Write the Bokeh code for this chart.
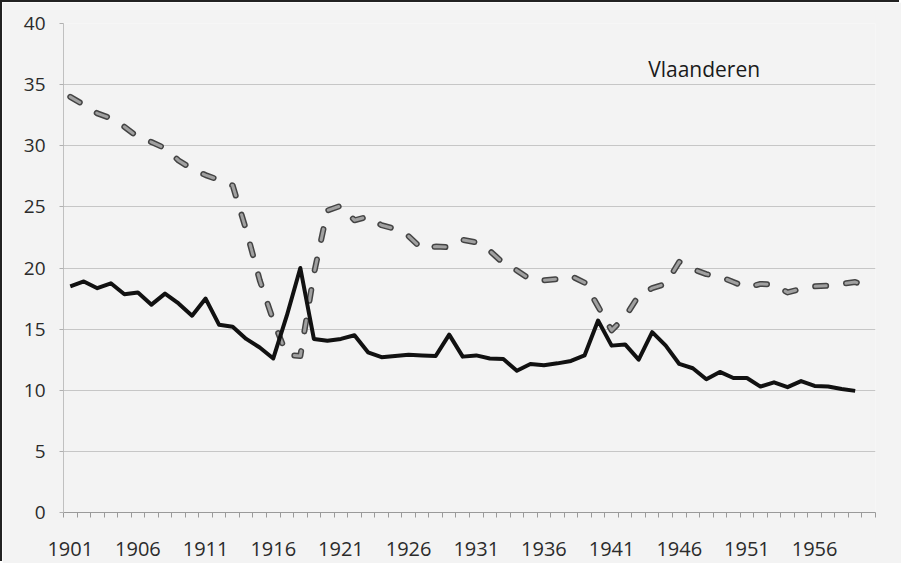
from bokeh.plotting import figure
from bokeh.models import FixedTicker, Label, ColumnDataSource
from bokeh.embed import file_html
from bokeh.resources import INLINE

years = [1901, 1902, 1903, 1904, 1905, 1906, 1907, 1908, 1909, 1910,
         1911, 1912, 1913, 1914, 1915, 1916, 1917, 1918, 1919, 1920,
         1921, 1922, 1923, 1924, 1925, 1926, 1927, 1928, 1929, 1930,
         1931, 1932, 1933, 1934, 1935, 1936, 1937, 1938, 1939, 1940,
         1941, 1942, 1943, 1944, 1945, 1946, 1947, 1948, 1949, 1950,
         1951, 1952, 1953, 1954, 1955, 1956, 1957, 1958, 1959, 1960]

# solid black series (1901-1959)
solid = [18.5, 18.9, 18.35, 18.75, 17.85, 18.0, 17.0, 17.9, 17.1, 16.1,
         17.5, 15.35, 15.2, 14.2, 13.5, 12.6, 16.1, 20.0, 14.2, 14.05,
         14.2, 14.5, 13.1, 12.7, 12.8, 12.9, 12.85, 12.8, 14.55, 12.75,
         12.85, 12.6, 12.55, 11.6, 12.15, 12.05, 12.2, 12.4, 12.85, 15.7,
         13.65, 13.75, 12.5, 14.75, 13.65, 12.15, 11.8, 10.9, 11.5, 11.0,
         11.0, 10.3, 10.65, 10.25, 10.75, 10.35, 10.3, 10.1, 9.95, float("nan")]

# dashed grey series (1901-1960)
dashed = [34.0, 33.35, 32.65, 32.25, 31.55, 30.7, 30.3, 29.8, 28.8, 28.1,
          27.6, 27.2, 26.75, 23.1, 19.0, 15.7, 12.9, 12.8, 19.5, 24.7,
          25.1, 23.9, 24.2, 23.5, 23.2, 22.6, 21.55, 21.75, 21.7, 22.3,
          22.1, 21.4, 20.4, 19.8, 19.05, 19.0, 19.1, 19.35, 18.8, 16.85,
          14.9, 16.0, 17.75, 18.35, 18.7, 20.5, 19.9, 19.5, 19.3, 18.85,
          18.4, 18.7, 18.65, 18.0, 18.3, 18.5, 18.55, 18.7, 18.85, 18.5]

x_tick_years = [1901, 1906, 1911, 1916, 1921, 1926, 1931, 1936, 1941, 1946, 1951, 1956]
y_ticks = [0, 5, 10, 15, 20, 25, 30, 35, 40]
title_text = "Vlaanderen"

src = ColumnDataSource(dict(year=years, solid=solid, dashed=dashed))

bg = "#f3f3f3"
p = figure(width=899, height=561, output_backend="svg", toolbar_location=None,
           x_range=(years[0] - 0.5, years[-1] + 0.5), y_range=(0, 40),
           min_border_left=61, min_border_right=26, min_border_top=21, min_border_bottom=51,
           background_fill_color=bg, border_fill_color=bg)
p.outline_line_color = None
# left and top edges of the scanned chart frame
p.styles = {"margin-left": "2px", "margin-top": "2px",
            "box-shadow": "-2px -2px 0px 0px #222222"}

# grid
p.xgrid.grid_line_color = None
p.ygrid.grid_line_color = "#c6c6c6"
p.ygrid.grid_line_width = 1
p.ygrid.ticker = FixedTicker(ticks=y_ticks)

# x axis
boundaries = [y - 0.5 for y in years] + [years[-1] + 0.5]
p.xaxis.ticker = FixedTicker(ticks=x_tick_years, minor_ticks=boundaries)
p.xaxis.major_tick_out = 0
p.xaxis.major_tick_in = 0
p.xaxis.minor_tick_out = 5
p.xaxis.minor_tick_in = 0
p.xaxis.minor_tick_line_color = "#9a9a9a"
p.xaxis.axis_line_color = "#9a9a9a"
p.xaxis.major_label_standoff = 24
p.xaxis.major_label_text_font = "Open Sans"
p.xaxis.major_label_text_font_size = "20px"
p.xaxis.major_label_text_color = "#2b2b2b"

# y axis
p.yaxis.ticker = FixedTicker(ticks=y_ticks)
p.yaxis.major_tick_out = 4
p.yaxis.major_tick_in = 0
p.yaxis.major_tick_line_color = "#b0b0b0"
p.yaxis.minor_tick_line_color = None
p.yaxis.axis_line_color = "#c0c0c0"
p.yaxis.major_label_standoff = 14
p.yaxis.major_label_text_font = "Open Sans"
p.yaxis.major_label_text_font_size = "19px"
p.yaxis.major_label_text_color = "#2b2b2b"

# dashed grey series (dark outline + grey core like the scan)
p.line("year", "dashed", source=src, line_color="#444444", line_width=6,
       line_dash="11 20", line_cap="round", line_join="round")
p.line("year", "dashed", source=src, line_color="#a0a0a0", line_width=3,
       line_dash="11 20", line_cap="round", line_join="round")

# solid black series
p.line("year", "solid", source=src, line_color="#111111", line_width=4,
       line_join="round")

p.add_layout(Label(x=1943.7, y=36.3, text=title_text, text_font="Open Sans",
                   text_font_size="21px", text_color="#1a1a1a",
                   text_align="left", text_baseline="middle"))

open("out.html", "w").write(file_html(p, INLINE))
